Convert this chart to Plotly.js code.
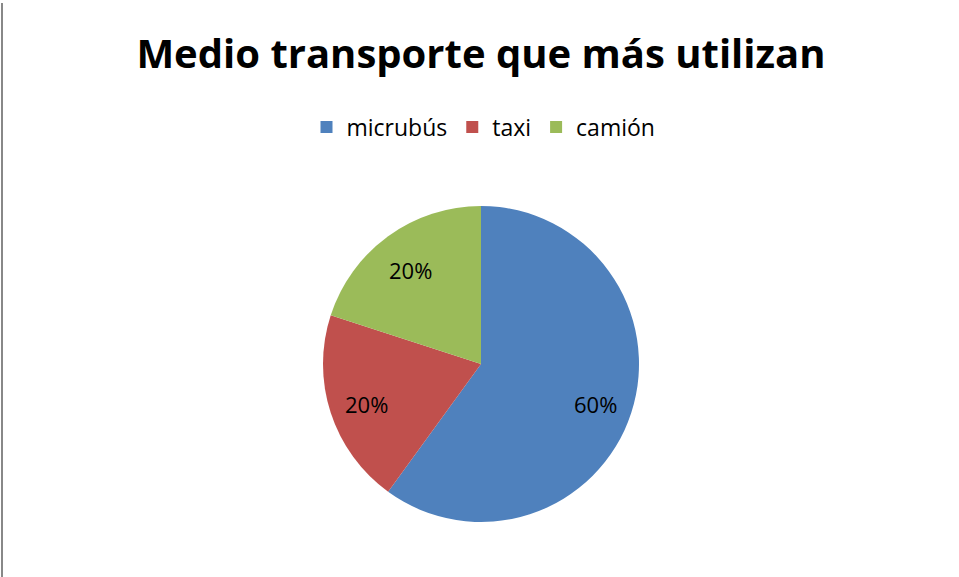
<!DOCTYPE html>
<html>
<head>
<meta charset="utf-8">
<script src="https://cdn.plot.ly/plotly-3.0.1.min.js"></script>
<style>
html,body{margin:0;padding:0;background:#fff;}
#frame{position:absolute;left:0;top:0;width:959px;height:577px;}
#edge{position:absolute;left:1px;top:3px;width:2px;height:574px;background:#888;}
#chart{position:absolute;left:0;top:0;width:959px;height:577px;}
</style>
</head>
<body>
<div id="frame"><div id="chart"></div><div id="edge"></div></div>
<script>
const categories = ["micrubús", "taxi", "camión"];
const values = [60, 20, 20];
const colors = ["#4F81BD", "#C0504D", "#9BBB59"];
const chartTitle = "Medio transporte que más utilizan";

const W = 959, H = 577;
const cx = 481, cy = 364, r = 158;
const FONT = "'Open Sans', sans-serif";

// label positions along each slice's mid-angle (clockwise from 12 o'clock)
const total = values.reduce((a, b) => a + b, 0);
const annotations = [];
let acc = 0;
values.forEach((v) => {
  const mid = (acc + v / 2) / total * 2 * Math.PI;
  acc += v;
  const d = 0.76 * r;
  const px = cx + d * Math.sin(mid);
  const py = cy - d * Math.cos(mid) + 3;
  annotations.push({
    xref: "paper", yref: "paper", x: px / W, y: 1 - py / H,
    xanchor: "center", yanchor: "middle", showarrow: false,
    text: Math.round(v / total * 100) + "%",
    font: {family: FONT, size: 22, color: "#000"}
  });
});

Plotly.newPlot("chart", [{
  type: "pie",
  labels: categories,
  values: values,
  sort: false,
  direction: "clockwise",
  rotation: 0,
  marker: {colors: colors, line: {width: 0}},
  textinfo: "none",
  hoverinfo: "none",
  domain: {x: [(cx - r) / W, (cx + r) / W], y: [(H - cy - r) / H, (H - cy + r) / H]}
}], {
  width: W, height: H,
  margin: {l: 0, r: 0, t: 0, b: 0},
  paper_bgcolor: "#fff",
  showlegend: true,
  annotations: annotations,
  title: {
    text: "<b>" + chartTitle + "</b>",
    font: {family: FONT, size: 40, color: "#000"},
    x: 0.5015, xanchor: "center", y: 1 - 54 / H, yanchor: "middle"
  },
  legend: {
    orientation: "h", x: 0.5 + 4 / W, xanchor: "center", y: 1 - 127 / H, yanchor: "middle",
    font: {family: FONT, size: 23, color: "#000"},
    itemwidth: 30,
    itemclick: false, traceorder: "normal"
  }
}, {staticPlot: true});
</script>
</body>
</html>
